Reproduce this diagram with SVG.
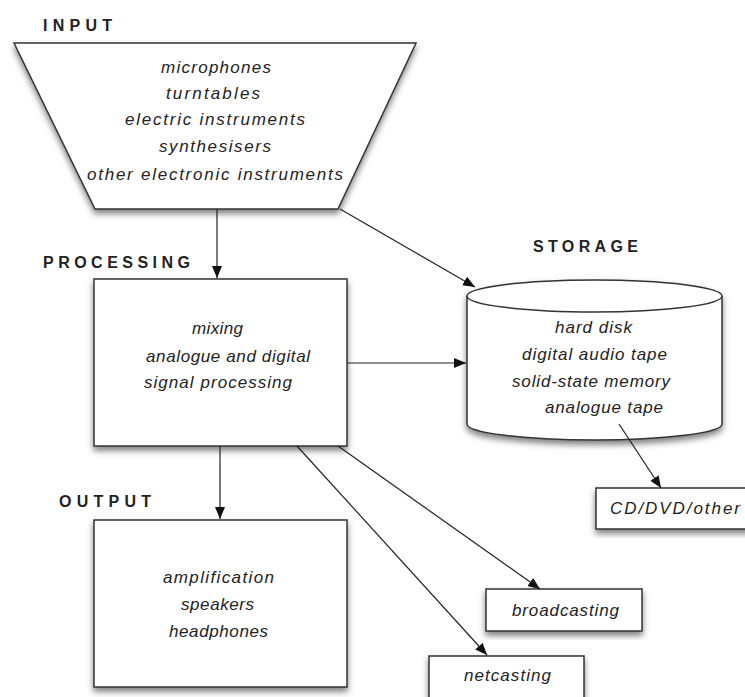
<svg xmlns="http://www.w3.org/2000/svg" width="745" height="697" viewBox="0 0 745 697">
<style>
.shape{fill:#fff;stroke:#333;stroke-width:1.5;filter:url(#sh)}
.head{font-family:"Liberation Sans",Arial,sans-serif;font-weight:bold;font-size:16px;fill:#222}
.hand{font-family:"Liberation Sans",Arial,sans-serif;font-style:italic;font-size:17px;fill:#222}
.conn line{stroke:#222;stroke-width:1.2;fill:none;marker-end:url(#arr)}
</style>
<defs>
<filter id="sh" x="-10%" y="-10%" width="120%" height="130%">
<feDropShadow dx="0" dy="4" stdDeviation="3" flood-color="#000" flood-opacity="0.5"/>
</filter>
<marker id="arr" markerUnits="userSpaceOnUse" markerWidth="12" markerHeight="10" refX="12" refY="5" orient="auto">
<path d="M0,0 L12,5 L0,10 Z" fill="#111"/>
</marker>
</defs>
<rect width="745" height="697" fill="#fff"/>

<g id="input">
<text class="head" x="43" y="31" textLength="69" lengthAdjust="spacing">INPUT</text>
<polygon class="shape" points="14,43 416,43 338,209 95,209"/>
<text class="hand" x="161" y="73" textLength="110" lengthAdjust="spacing">microphones</text>
<text class="hand" x="166" y="99" textLength="94" lengthAdjust="spacing">turntables</text>
<text class="hand" x="125" y="125" textLength="180" lengthAdjust="spacing">electric instruments</text>
<text class="hand" x="159" y="152" textLength="112" lengthAdjust="spacing">synthesisers</text>
<text class="hand" x="87" y="180" textLength="256" lengthAdjust="spacing">other electronic instruments</text>
</g>

<g id="processing">
<text class="head" x="43" y="268" textLength="147" lengthAdjust="spacing">PROCESSING</text>
<rect class="shape" x="94" y="279" width="253" height="167"/>
<text class="hand" x="192" y="334" textLength="51" lengthAdjust="spacing">mixing</text>
<text class="hand" x="146" y="362" textLength="164" lengthAdjust="spacing">analogue and digital</text>
<text class="hand" x="144" y="388" textLength="148" lengthAdjust="spacing">signal processing</text>
</g>

<g id="storage">
<text class="head" x="533" y="252" textLength="105" lengthAdjust="spacing">STORAGE</text>
<path class="shape" d="M467,296 A127.5,16 0 0 1 722,296 L722,424 A127.5,16 0 0 1 467,424 Z"/>
<path d="M467,296 A127.5,16 0 0 0 722,296" fill="none" stroke="#333" stroke-width="1.5"/>
<text class="hand" x="555" y="333" textLength="77" lengthAdjust="spacing">hard disk</text>
<text class="hand" x="522" y="360" textLength="145" lengthAdjust="spacing">digital audio tape</text>
<text class="hand" x="512" y="387" textLength="158" lengthAdjust="spacing">solid-state memory</text>
<text class="hand" x="545" y="413" textLength="118" lengthAdjust="spacing">analogue tape</text>
</g>

<g id="output">
<text class="head" x="59" y="507" textLength="92" lengthAdjust="spacing">OUTPUT</text>
<rect class="shape" x="94" y="520" width="253" height="167"/>
<text class="hand" x="163" y="583" textLength="111" lengthAdjust="spacing">amplification</text>
<text class="hand" x="181" y="610" textLength="73" lengthAdjust="spacing">speakers</text>
<text class="hand" x="169" y="637" textLength="99" lengthAdjust="spacing">headphones</text>
</g>

<g id="cd">
<rect class="shape" x="596" y="488" width="155" height="41"/>
<text class="hand" x="610" y="514" textLength="130" lengthAdjust="spacing">CD/DVD/other</text>
</g>

<g id="broadcasting">
<rect class="shape" x="486" y="589" width="156" height="42"/>
<text class="hand" x="512" y="616" textLength="107" lengthAdjust="spacing">broadcasting</text>
</g>

<g id="netcasting">
<rect class="shape" x="429" y="656" width="155" height="50"/>
<text class="hand" x="464" y="681" textLength="87" lengthAdjust="spacing">netcasting</text>
</g>

<g class="conn" id="connectors">
<line x1="217" y1="209" x2="217" y2="278"/>
<line x1="340" y1="209" x2="475" y2="287"/>
<line x1="347" y1="363" x2="466" y2="363"/>
<line x1="220" y1="446" x2="220" y2="519"/>
<line x1="338" y1="446" x2="540" y2="589"/>
<line x1="297" y1="446" x2="487" y2="655"/>
<line x1="619" y1="424" x2="661" y2="488"/>
</g>
</svg>
